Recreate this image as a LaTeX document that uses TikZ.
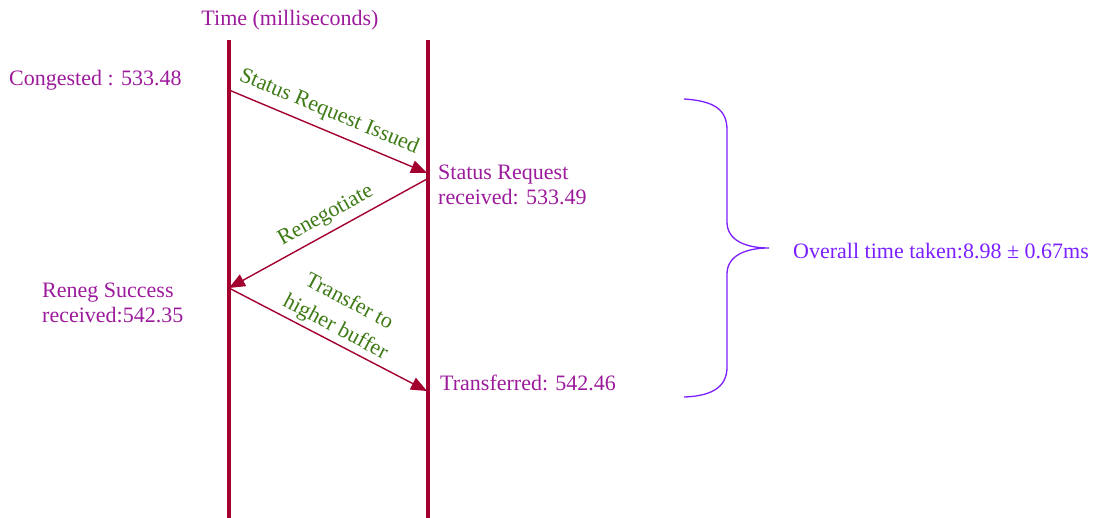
\documentclass[tikz,border=0pt]{standalone}
\usepackage{fontspec}
\setmainfont{Liberation Serif}
\usetikzlibrary{arrows.meta}
\definecolor{lifered}{HTML}{A3002F}
\definecolor{evmag}{HTML}{9C1A9C}
\definecolor{msggreen}{HTML}{3E7A16}
\definecolor{bracevio}{HTML}{7B1FFF}
\begin{document}
\begin{tikzpicture}[x=1pt,y=-1pt,
  lifeline/.style={draw=lifered,line width=3.2pt},
  msg/.style={draw=lifered,line width=1.4pt,-{Triangle[length=16pt,width=13pt]}},
  evlabel/.style={text=evmag,font=\fontsize{22}{25}\selectfont,inner sep=0pt,align=left},
  msglabel/.style={text=msggreen,font=\fontsize{22}{29}\selectfont,inner sep=0pt,align=center},
  bracepath/.style={draw=bracevio,line width=1.3pt}]
\useasboundingbox (0,0) rectangle (1098,518);

% lifelines
\coordinate (Ltop) at (229,40);
\coordinate (Lbot) at (229,518);
\coordinate (Rtop) at (428,40);
\coordinate (Rbot) at (428,518);
\draw[lifeline] (Ltop) -- (Lbot);
\draw[lifeline] (Rtop) -- (Rbot);

% message end points
\coordinate (m1s) at (229,90);
\coordinate (m1e) at (427,173);
\coordinate (m2s) at (427,179);
\coordinate (m2e) at (229,288);
\coordinate (m3s) at (229,288);
\coordinate (m3e) at (427,391);

\draw[msg] (m1s) -- (m1e);
\draw[msg] (m2s) -- (m2e);
\draw[msg] (m3s) -- (m3e);

% title
\node[evlabel] (title) at (290,20) {Time (milliseconds)};

% event labels
\node[evlabel,anchor=west] (cong) at (9,80) {Congested : 533.48};
\node[evlabel,anchor=west] (srr) at (438,185) {Status Request\\received: 533.49};
\node[evlabel,anchor=west] (rsr) at (42,303) {Reneg Success\\received:542.35};
\node[evlabel,anchor=west] (trf) at (440,383) {Transferred: 542.46};

% message labels
\node[msglabel,rotate=-22.5] (l1) at (329,112) {Status Request Issued};
\node[msglabel,rotate=29] (l2) at (326,216) {Renegotiate};
\node[msglabel,rotate=-28] (l3) at (342,315) {Transfer to\\higher buffer};

% brace and total
\draw[bracepath] (684,99) .. controls (715,101) and (727,110) .. (727,130)
  -- (727,222) .. controls (727,240) and (745,248) .. (769,248)
  .. controls (745,248) and (727,256) .. (727,274)
  -- (727,367) .. controls (727,385) and (715,396) .. (684,397);
\node[evlabel,text=bracevio,anchor=west] (total) at (793,251) {Overall time taken:8.98 ± 0.67ms};
\end{tikzpicture}
\end{document}
